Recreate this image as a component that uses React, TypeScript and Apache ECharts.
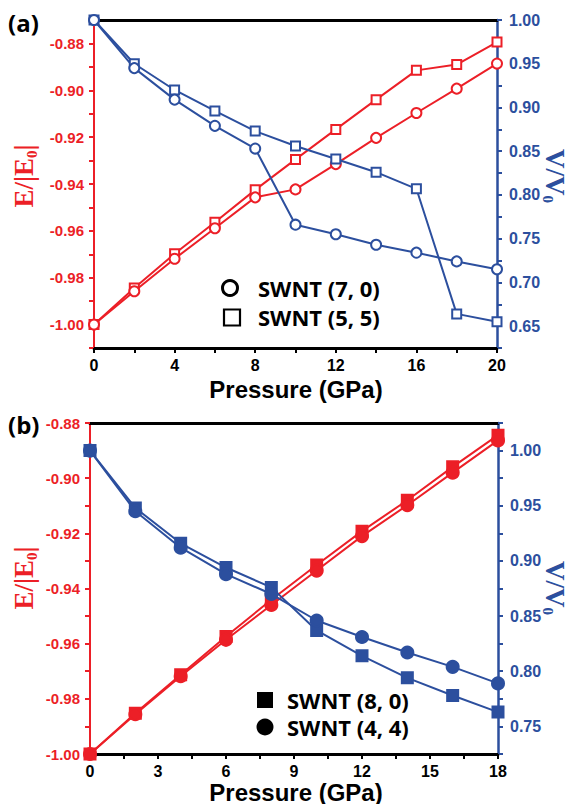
import React, { useEffect, useRef } from "react";
import * as echarts from "echarts";

const RED = "#ec1f27";
const BLUE = "#2c4f9e";

// Panel (a)
const pressureA = [0, 2, 4, 6, 8, 10, 12, 14, 16, 18, 20];
const eA_55 = [-1.0, -0.9844, -0.9698, -0.9563, -0.9425, -0.9295, -0.9167, -0.904, -0.8915, -0.889, -0.8794];
const eA_70 = [-1.0, -0.9858, -0.9719, -0.9589, -0.9457, -0.9423, -0.9315, -0.9203, -0.9097, -0.8993, -0.8886];
const vA_55 = [1.0, 0.95, 0.92, 0.896, 0.873, 0.856, 0.841, 0.826, 0.807, 0.664, 0.655];
const vA_70 = [1.0, 0.945, 0.909, 0.879, 0.853, 0.766, 0.755, 0.743, 0.734, 0.724, 0.715];

// Panel (b)
const pressureB = [0, 2, 4, 6, 8, 10, 12, 14, 16, 18];
const eB_80 = [-1.0, -0.9852, -0.9713, -0.9574, -0.9441, -0.9315, -0.9192, -0.908, -0.8959, -0.8844];
const eB_44 = [-1.0, -0.9856, -0.9718, -0.9586, -0.946, -0.9335, -0.921, -0.9098, -0.898, -0.8863];
const vB_80 = [1.0, 0.948, 0.916, 0.894, 0.876, 0.837, 0.814, 0.794, 0.778, 0.763];
const vB_44 = [1.0, 0.945, 0.912, 0.888, 0.87, 0.846, 0.831, 0.817, 0.804, 0.789];

const legendA = ["SWNT (7, 0)", "SWNT (5, 5)"];
const legendB = ["SWNT (8, 0)", "SWNT (4, 4)"];
const xTitle = "Pressure (GPa)";

const pair = (xs: number[], ys: number[]) => xs.map((x, i) => [x, ys[i]]);

const LABEL_FONT = "Liberation Sans, Arial, sans-serif";

function yAxis(
  grid: number,
  position: string,
  min: number,
  max: number,
  interval: number,
  color: string,
  fmt: (v: number) => string,
  fontSize: number,
  margin: number,
  lw: number
) {
  return {
    type: "value",
    gridIndex: grid,
    position,
    min,
    max,
    interval,
    axisLine: { show: true, onZero: false, lineStyle: { color, width: lw } },
    axisTick: { show: true, inside: false, length: 5, lineStyle: { color, width: 2 } },
    splitLine: { show: false },
    axisLabel: {
      color,
      fontWeight: "bold",
      fontSize,
      fontFamily: LABEL_FONT,
      margin,
      formatter: fmt,
    },
  };
}

function xAxis(grid: number, max: number, interval: number, fmt: (v: number) => string) {
  return {
    type: "value",
    gridIndex: grid,
    position: "bottom",
    min: 0,
    max,
    interval,
    axisLine: { show: true, onZero: false, lineStyle: { color: "#000", width: 3 } },
    axisTick: { show: true, inside: false, length: 5, lineStyle: { color: "#000", width: 2 } },
    splitLine: { show: false },
    axisLabel: {
      color: "#000",
      fontWeight: "bold",
      fontSize: 16,
      fontFamily: LABEL_FONT,
      margin: 9,
      formatter: fmt,
    },
  };
}

function topAxis(grid: number, max: number) {
  return {
    type: "value",
    gridIndex: grid,
    position: "top",
    min: 0,
    max,
    axisLine: { show: true, onZero: false, lineStyle: { color: "#000", width: 3 } },
    axisTick: { show: false },
    axisLabel: { show: false },
    splitLine: { show: false },
  };
}

function lineSeries(
  xAxisIndex: number,
  yAxisIndex: number,
  data: number[][],
  color: string,
  symbol: string,
  size: number,
  z: number
) {
  return {
    type: "line",
    xAxisIndex,
    yAxisIndex,
    data,
    symbol,
    symbolSize: size,
    showAllSymbol: true,
    clip: false,
    z,
    lineStyle: { color, width: 2 },
    itemStyle: { color, borderColor: color, borderWidth: 2 },
    emphasis: { disabled: true },
  };
}

const evenHundredth = (v: number) => (Math.round(v * 100) % 2 === 0 ? v.toFixed(2) : "");
const fiveHundredth = (v: number) => (Math.round(v * 1000) % 50 === 0 ? v.toFixed(2) : "");

const SERIF = "Liberation Serif, Times New Roman, serif";

function titleE(x: number, y: number) {
  return {
    type: "text",
    x,
    y,
    rotation: Math.PI / 2,
    style: {
      text: "{n|E/|E}{s|0}{n||}",
      align: "center",
      verticalAlign: "middle",
      rich: {
        n: { fontFamily: SERIF, fontWeight: "bold", fontSize: 27, lineHeight: 30, fill: RED },
        s: { fontFamily: SERIF, fontWeight: "bold", fontSize: 15, lineHeight: 15, verticalAlign: "bottom", fill: RED },
      },
    },
  };
}

function titleV(x: number, y: number) {
  return {
    type: "text",
    x,
    y,
    rotation: -Math.PI / 2,
    style: {
      text: "{n|V/V}{s|0}",
      align: "center",
      verticalAlign: "middle",
      rich: {
        n: { fontFamily: SERIF, fontWeight: "bold", fontSize: 27, lineHeight: 30, fill: BLUE },
        s: { fontFamily: SERIF, fontWeight: "bold", fontSize: 15, lineHeight: 15, verticalAlign: "bottom", fill: BLUE },
      },
    },
  };
}

function plainText(x: number, y: number, text: string, fontSize: number, family: string, align = "left") {
  return {
    type: "text",
    x,
    y,
    style: {
      text,
      fill: "#000",
      fontFamily: family,
      fontWeight: "bold",
      fontSize,
      align,
      verticalAlign: "middle",
    },
  };
}

export default function App() {
  const ref = useRef<HTMLDivElement>(null);

  useEffect(() => {
    if (!ref.current) return;
    const chart = echarts.init(ref.current, undefined, { renderer: "svg" });
    const option = {
      animation: false,
      backgroundColor: "#fff",
      grid: [
        { left: 94, top: 20, width: 403, height: 328 },
        { left: 90, top: 423, width: 408, height: 331 },
      ],
      xAxis: [
        xAxis(0, 20, 2, (v: number) => (v % 4 === 0 ? String(v) : "")),
        topAxis(0, 20),
        xAxis(1, 18, 1.5, (v: number) => (Math.round(v * 10) % 30 === 0 ? String(Math.round(v)) : "")),
        topAxis(1, 18),
      ],
      yAxis: [
        yAxis(0, "left", -1.01, -0.87, 0.01, RED, evenHundredth, 15, 10, 2),
        yAxis(0, "right", 0.625, 1.0, 0.025, BLUE, fiveHundredth, 16, 12, 2.5),
        yAxis(1, "left", -1.0, -0.88, 0.01, RED, evenHundredth, 15, 10, 2),
        yAxis(1, "right", 0.725, 1.025, 0.025, BLUE, fiveHundredth, 16, 12, 2.5),
      ],
      series: [
        lineSeries(0, 0, pair(pressureA, eA_55), RED, "emptyRect", 9, 2),
        lineSeries(0, 0, pair(pressureA, eA_70), RED, "emptyCircle", 10, 2),
        lineSeries(0, 1, pair(pressureA, vA_55), BLUE, "emptyRect", 9, 3),
        lineSeries(0, 1, pair(pressureA, vA_70), BLUE, "emptyCircle", 10, 3),
        lineSeries(2, 2, pair(pressureB, eB_80), RED, "rect", 11, 2),
        lineSeries(2, 2, pair(pressureB, eB_44), RED, "circle", 12, 2),
        lineSeries(2, 3, pair(pressureB, vB_80), BLUE, "rect", 11, 3),
        lineSeries(2, 3, pair(pressureB, vB_44), BLUE, "circle", 12, 3),
      ],
      graphic: [
        plainText(8, 22, "(a)", 24, "Open Sans, sans-serif"),
        plainText(8, 424, "(b)", 24, "Open Sans, sans-serif"),
        titleE(24, 176),
        titleE(24, 578),
        titleV(555, 176),
        titleV(555, 588),
        plainText(296, 389, xTitle, 24, LABEL_FONT, "center"),
        plainText(296, 792, xTitle, 24, LABEL_FONT, "center"),
        // legend (a)
        { type: "circle", shape: { cx: 230, cy: 288, r: 7.5 }, style: { fill: "#fff", stroke: "#000", lineWidth: 3 } },
        { type: "rect", shape: { x: 224, y: 309.5, width: 16, height: 16 }, style: { fill: "#fff", stroke: "#000", lineWidth: 2.2 } },
        plainText(258, 288, legendA[0], 22, "Open Sans, sans-serif"),
        plainText(258, 317, legendA[1], 22, "Open Sans, sans-serif"),
        // legend (b)
        { type: "rect", shape: { x: 257, y: 692, width: 16, height: 16 }, style: { fill: "#000" } },
        { type: "circle", shape: { cx: 265, cy: 727, r: 8.5 }, style: { fill: "#000" } },
        plainText(287, 700, legendB[0], 22, "Open Sans, sans-serif"),
        plainText(287, 727, legendB[1], 22, "Open Sans, sans-serif"),
      ],
    };
    chart.setOption(option as any);
    return () => chart.dispose();
  }, []);

  return (
    <div
      ref={ref}
      style={{ position: "fixed", left: 0, top: 0, width: 571, height: 804, background: "#fff" }}
    />
  );
}
